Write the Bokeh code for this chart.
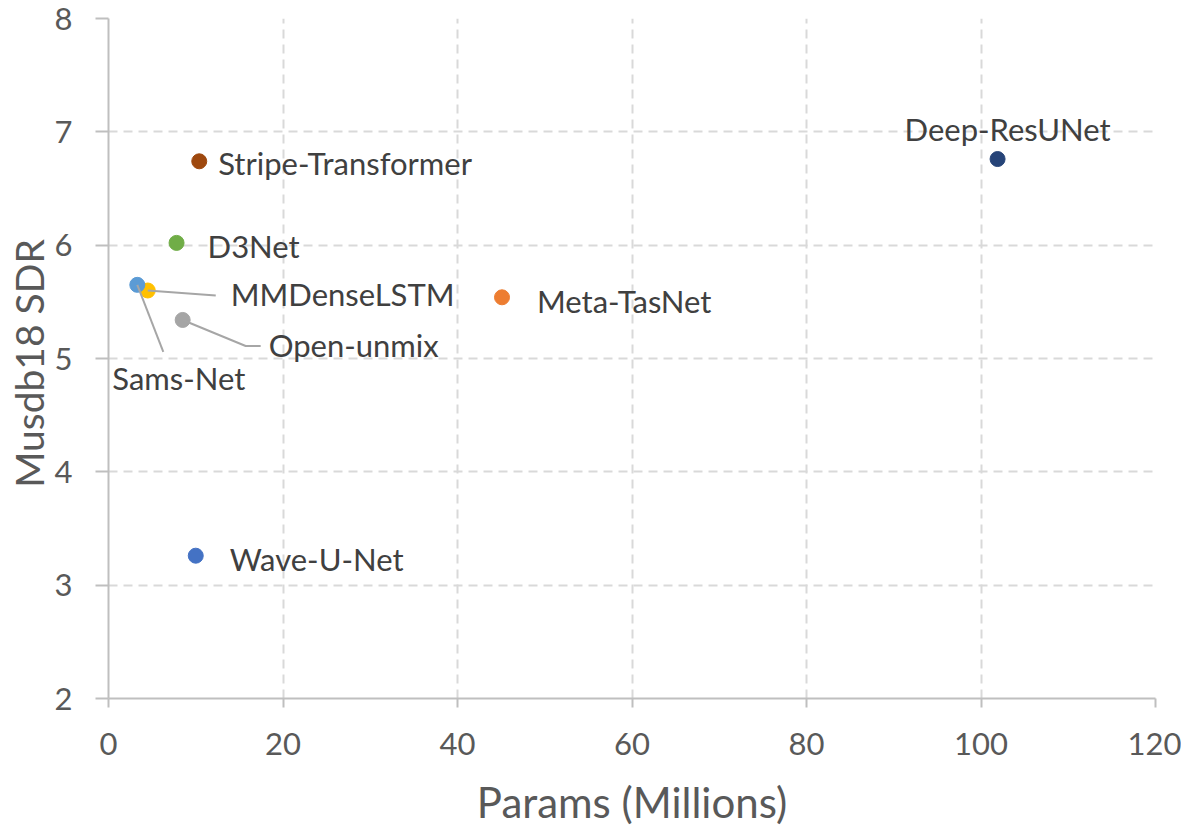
from bokeh.plotting import figure
from bokeh.models import Range1d, FixedTicker, ColumnDataSource, Label
from bokeh.embed import file_html
from bokeh.resources import INLINE

# ---------------- data ----------------
models = ["Wave-U-Net", "Meta-TasNet", "Open-unmix", "MMDenseLSTM",
          "Sams-Net", "D3Net", "Deep-ResUNet", "Stripe-Transformer"]
params = [10.0, 45.1, 8.5, 4.5, 3.3, 7.8, 101.9, 10.4]
sdr = [3.26, 5.54, 5.34, 5.60, 5.65, 6.02, 6.76, 6.74]
x_ticks = [0, 20, 40, 60, 80, 100, 120]
y_ticks = [2, 3, 4, 5, 6, 7, 8]
x_title = "Params (Millions)"
y_title = "Musdb18  SDR"

# ---------------- style ----------------
colors = ["#4472C4", "#ED7D31", "#A5A5A5", "#FFC000",
          "#5B9BD5", "#70AD47", "#264478", "#9E480E"]
# label offsets in screen pixels (dx right, dy down)
lab_dx = [34, 35, 86, 83, -25, 31, 10, 19]
lab_dy = [3, 4, 25, 3, 93, 3, -30, 2]
lab_align = ["left", "left", "left", "left", "left", "left", "center", "left"]
# leader lines (screen px offsets from point), per model index
leaders = {2: [(0, 0), (63, 26), (78, 26)],
           3: [(0, 0), (68, 5)],
           4: [(0, 0), (26, 67)]}

FONT = "Lato"
FRAME_W, FRAME_H = 1047, 680
X0, X1, Y0, Y1 = 0, 120, 2, 8
pxx = FRAME_W / (X1 - X0)
pxy = FRAME_H / (Y1 - Y0)

p = figure(frame_width=FRAME_W, frame_height=FRAME_H,
           min_border_left=108, min_border_right=26,
           min_border_top=18, min_border_bottom=129,
           x_range=Range1d(X0, X1), y_range=Range1d(Y0, Y1),
           output_backend="svg", toolbar_location=None,
           background_fill_color="white", border_fill_color="white")
p.outline_line_color = None

# axes
for ax in (p.xaxis[0], p.yaxis[0]):
    ax.axis_line_color = "#BFBFBF"
    ax.axis_line_width = 2
    ax.major_tick_line_color = "#BFBFBF"
    ax.major_tick_line_width = 2
    ax.major_tick_in = 0
    ax.minor_tick_line_color = None
    ax.major_label_text_font = FONT
    ax.major_label_text_font_size = "31px"
    ax.major_label_text_color = "#595959"
    ax.axis_label_text_font = FONT
    ax.axis_label_text_font_style = "normal"
    ax.axis_label_text_color = "#595959"

p.xaxis.axis_label_text_font_size = "42px"
p.yaxis.axis_label_text_font_size = "39px"
p.xaxis.ticker = FixedTicker(ticks=x_ticks)
p.yaxis.ticker = FixedTicker(ticks=y_ticks)
p.xaxis.major_tick_out = 9
p.yaxis.major_tick_out = 13
p.xaxis.major_label_standoff = 25
p.yaxis.major_label_standoff = 23
p.xaxis.axis_label = x_title
p.yaxis.axis_label = y_title
p.xaxis.axis_label_standoff = 19
p.yaxis.axis_label_standoff = 0

for g in (p.xgrid[0], p.ygrid[0]):
    g.grid_line_color = "#D9D9D9"
    g.grid_line_width = 2
    g.grid_line_dash = "9 6"
p.xgrid.ticker = FixedTicker(ticks=x_ticks[1:])
p.ygrid.ticker = FixedTicker(ticks=y_ticks[1:])

src = ColumnDataSource(dict(x=params, y=sdr, name=models, color=colors))

p.scatter("x", "y", source=src, size=15, fill_color="color",
          line_color="color", line_width=1)

# leader lines
lx, ly = [], []
for i, pts in leaders.items():
    lx.append([params[i] + a / pxx for a, b in pts])
    ly.append([sdr[i] - b / pxy for a, b in pts])
p.multi_line(lx, ly, line_color="#A6A6A6", line_width=2)

for xv, yv, name, dx, dy, al in zip(params, sdr, models, lab_dx, lab_dy, lab_align):
    p.add_layout(Label(x=xv, y=yv, text=name, x_offset=dx, y_offset=-dy,
                       text_align=al, text_baseline="middle",
                       text_font=FONT, text_font_size="31px",
                       text_color="#404040"))

open("out.html", "w").write(file_html(p, INLINE))
